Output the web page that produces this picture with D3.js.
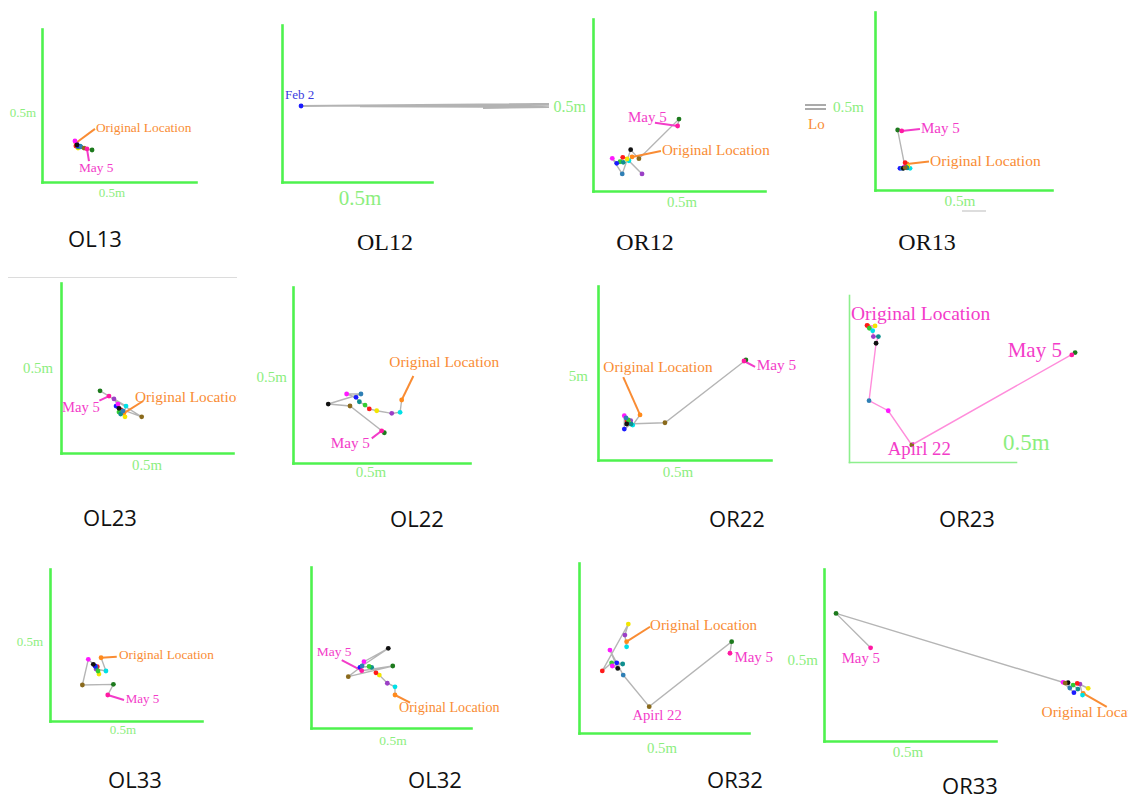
<!DOCTYPE html>
<html>
<head>
<meta charset="utf-8">
<script src="https://cdn.jsdelivr.net/npm/d3@7"></script>
<style>
  body { margin: 0; background: #fff; }
  svg { display: block; }
</style>
</head>
<body>
<div id="chart"></div>
<script>
// one colour per survey, 0 = original location ... 13 = May 5
var obsColors = ["#ff8a1c", "#00e0e6", "#9b3fc6", "#f2e600", "#ff1a1a", "#33cc33", "#0f8f8f",
                 "#1a1aff", "#ff19ff", "#2f7fb5", "#111111", "#8a6a1c", "#1d7a1d", "#ff1aa3"];

// tracks: [x (cm), y (cm), survey index], in survey order; -1 = no marker
var ol13 = [[22.0,25.5,0],[24.7,22.9,1],[22.7,24.8,2],[23.4,22.2,3],[22.0,23.5,4],[23.4,22.9,5],[24.7,23.5,6],
            [23.4,23.5,7],[21.4,26.8,8],[25.3,22.9,9],[22.7,24.2,10],[27.3,22.2,11],[32.5,20.9,12],[29.2,21.6,13]];
var ol12 = [[12.7,48.4,7],[178,49.7,-1],[52,48.2,-1],[134,48.0,-1],[178,48.8,-1],[134,47.2,-1],[178,47.8,-1]];
var or12 = [[22.7,19.8,0],[20.9,17.6,1],[28.5,9.9,2],[19.8,18.6,3],[17.3,19.6,4],[15.7,17.0,5],[17.6,16.7,6],
            [13.8,16.1,7],[11.2,19.0,8],[17.0,9.9,9],[21.9,24.0,10],[26.7,18.8,11],[50.0,41.8,12],[49.2,37.8,13]];
var or13 = [[18.1,14.6,0],[19.8,12.2,1],[17.5,13.5,2],[18.6,13.2,3],[17.0,15.3,4],[17.5,12.9,5],[18.1,12.4,6],
            [14.1,12.2,7],[16.4,12.9,8],[15.3,12.1,9],[16.0,12.2,10],[17.0,12.6,11],[12.8,33.7,12],[15.1,33.2,13]];
var ol23 = [[36.6,23.5,0],[37.8,27.6,1],[30.8,31.8,2],[37.2,21.3,3],[34.9,25.3,4],[33.7,24.1,5],[34.7,22.9,6],
            [32.0,27.6,7],[33.1,28.8,8],[36.0,24.7,9],[33.7,26.3,10],[46.9,21.3,11],[22.7,36.6,12],[27.9,33.5,13]];
var ol22 = [[61.4,35.8,0],[60.5,28.8,1],[55.8,28.2,2],[47.3,29.7,3],[43.1,30.7,4],[40.7,32.9,5],[37.5,34.8,6],
            [35.6,37.3,7],[30.3,39.2,8],[38.4,39.2,9],[19.9,33.5,10],[32.2,32.4,11],[51.6,17.2,12],[50.1,18.3,13]];
var or22 = [[24.3,25.9,0],[20.1,20.1,1],[18.9,22.6,2],[17.9,21.3,3],[16.8,22.4,4],[17.5,23.0,5],[19.1,20.7,6],
            [15.2,17.8,7],[15.2,25.5,8],[16.2,24.2,9],[16.6,20.7,10],[38.7,21.4,11],[85.5,57.5,12],[84.4,56.9,13]];
var or23 = [[11.4,81.5,0],[10.8,81.8,4],[15.6,81.5,3],[12.2,80.1,5],[14.2,78.6,1],[14.6,75.1,2],[17.6,75.1,6],
            [16.2,71.1,10],[12.0,36.7,9],[23.5,30.7,8],[37.6,10.2,11],[135.4,65.5,12],[133.4,64.1,13]];
var ol33 = [[33.6,41.6,0],[36.8,32.9,1],[30.3,34.2,2],[32.2,30.9,3],[31.1,35.7,4],[31.6,32.9,5],[30.3,35.5,6],
            [29.6,36.2,7],[28.5,37.3,10],[25.2,40.6,8],[21.3,23.7,11],[41.7,24.1,12],[38.0,17.1,13]];
var ol32 = [[52.5,20.5,0],[52.5,25.6,1],[47.7,27.8,2],[42.7,32.9,3],[40.6,34.3,4],[37.9,37.7,6],[36.3,38.2,5],
            [30.6,37.7,7],[33.1,41.2,8],[48.3,49.5,10],[31.9,38.5,9],[23.3,31.9,11],[51.1,38.5,12],[31.7,35.6,13]];
var or32 = [[28.0,53.7,0],[28.0,50.7,1],[27.0,57.6,2],[29.0,64.1,3],[13.7,36.5,4],[19.2,41.3,5],[22.2,41.3,7],
            [25.7,40.6,6],[19.6,39.4,8],[22.8,38.0,10],[18.2,48.8,8],[26.0,34.1,9],[41.3,15.5,11],[89.8,53.7,12],[88.8,46.9,13]];
var or33 = [[150.7,27.7,0],[150.3,26.7,1],[148.8,33.1,2],[153.6,30.6,3],[147.2,33.5,4],[144.8,32.5,5],[147.6,30.2,6],
            [145.3,28.1,7],[139.0,34.1,8],[142.9,30.8,9],[141.9,33.9,10],[140.2,33.7,11],[7.0,74.2,12],[27.1,54.2,13]];

var panelNames = ["OL13", "OL12", "OR12", "OR13", "OL23", "OL22", "OR22", "OR23", "OL33", "OL32", "OR32", "OR33"];
var tracks = [ol13, ol12, or12, or13, ol23, ol22, or22, or23, ol33, ol32, or32, or33];

// annotations: text, position (cm), point it points at (-1 = last), leader end (cm)
var ORIG = "Original Location", MAY5 = "May 5", APR22 = "Apirl 22";
var notes = [
  [{t: ORIG, x: 35, y: 32.7, s: 13.4, from: 0, to: [34.4, 34.7]}, {t: MAY5, x: 24, y: 6.5, s: 13.4, from: -1, to: [30.5, 13.7]}],
  [{t: "Feb 2", x: 2.0, y: 52.9, s: 13, c: "#3a3ae0"}],
  [{t: ORIG, x: 40.1, y: 20.9, s: 15.1, from: 0, to: [39.5, 23.2]}, {t: MAY5, x: 20.3, y: 40.1, s: 15, from: -1, to: [36.0, 39.7]}],
  [{t: ORIG, x: 31.1, y: 13.7, s: 15.5, from: 0, to: [30.5, 16.0]}, {t: MAY5, x: 26.0, y: 31.9, s: 15, from: -1, to: [25.4, 34.3]}],
  [{t: ORIG, x: 43.0, y: 30.0, s: 15.3, from: 0, to: [47.8, 30.6]}, {t: MAY5, x: 0.6, y: 24.3, s: 14.6, from: -1, to: [22.3, 30.8]}],
  [{t: ORIG, x: 54.4, y: 54.4, s: 15.4, from: 0, to: [68.0, 49.4]}, {t: MAY5, x: 21.3, y: 8.3, s: 15.2, from: -1, to: [44.5, 14.0]}],
  [{t: ORIG, x: 3.1, y: 50.8, s: 15.3, from: 0, to: [14.6, 47.6]}, {t: MAY5, x: 91.7, y: 51.8, s: 15.3, from: -1, to: [90.8, 53.5]}],
  [{t: ORIG, x: 1.2, y: 85.1, s: 19.5, pink: true}, {t: MAY5, x: 95.0, y: 62.7, s: 21}, {t: APR22, x: 23.2, y: 4.2, s: 18.8}],
  [{t: ORIG, x: 45.4, y: 40.8, s: 13.3, from: 0, to: [43.9, 42.3]}, {t: MAY5, x: 49.8, y: 11.6, s: 13, from: -1, to: [48.7, 13.8]}],
  [{t: ORIG, x: 55.0, y: 10.1, s: 14.1, from: 0, to: [61.9, 15.7]}, {t: MAY5, x: 3.6, y: 44.7, s: 13.5, from: -1, to: [19.2, 42.2]}],
  [{t: ORIG, x: 41.8, y: 60.6, s: 15, from: 0, to: [41.8, 62.5]}, {t: MAY5, x: 91.4, y: 41.9, s: 15}, {t: APR22, x: 31.4, y: 7.6, s: 14.7}],
  [{t: ORIG, x: 126.5, y: 14.1, s: 15.4, from: 0, to: [164.4, 19.9]}, {t: MAY5, x: 10.3, y: 45.1, s: 14.8}]
];

// panel layout in pixels
var SANS = "'Open Sans', sans-serif", SERIF = "'Liberation Serif', 'Times New Roman', serif";
var panels = [
  {x0: 42,  y0: 182, w: 154, h: 153, tx: 95,  ty: 247, tf: SANS,  xl: [112, 197, 13],  yl: [36, 117, 13]},
  {x0: 282, y0: 182, w: 150, h: 157, tx: 385, ty: 250, tf: SERIF, xl: [360, 205, 21]},
  {x0: 593, y0: 191, w: 172, h: 172, tx: 645, ty: 250, tf: SERIF, xl: [682, 207, 14.8], yl: [586, 112, 16]},
  {x0: 875, y0: 190, w: 177, h: 178, tx: 927, ty: 250, tf: SERIF, xl: [960, 206, 15.3], yl: [864, 112, 15.3]},
  {x0: 61,  y0: 453, w: 172, h: 170, tx: 110, ty: 526, tf: SANS,  xl: [147, 470, 14.8], yl: [53, 373, 14.8], clip: 237},
  {x0: 293, y0: 463, w: 177, h: 176, tx: 417, ty: 527, tf: SANS,  xl: [371, 477, 15],   yl: [287, 382, 15]},
  {x0: 598, y0: 460, w: 173, h: 174, tx: 737, ty: 527, tf: SANS,  xl: [678, 477, 15],   yl: [588, 381, 15], ylText: "5m"},
  {x0: 849, y0: 462, w: 167, h: 167, tx: 967, ty: 527, tf: SANS,  xl: [1003, 450, 23], xlStart: true, thin: true},
  {x0: 50,  y0: 721, w: 152, h: 152, tx: 135, ty: 788, tf: SANS,  xl: [123, 734, 13],   yl: [43, 646, 13]},
  {x0: 311, y0: 728, w: 160, h: 161, tx: 435, ty: 788, tf: SANS,  xl: [393, 745, 13.5]},
  {x0: 579, y0: 733, w: 170, h: 170, tx: 735, ty: 788, tf: SANS,  xl: [662, 753, 14.8]},
  {x0: 824, y0: 741, w: 172, h: 172, tx: 970, ty: 794, tf: SANS,  xl: [908, 757, 15],   yl: [818, 665, 15], clip: 1128}
];

var axisGreen = "#4ef24e";
var labelGreen = "#8cee7e";
var orange = "#f98c34";
var pink = "#f33cc9";
var trackGray = "#b5b5b5";

var svg = d3.select("#chart")
            .append("svg")
            .attr("width", 1132)
            .attr("height", 796);

// leftover bits from the pasted screenshots
svg.append("line").attr("x1", 8).attr("x2", 237).attr("y1", 277.5).attr("y2", 277.5)
   .attr("stroke", "#dcdcdc").attr("stroke-width", 1);
svg.append("line").attr("x1", 805).attr("x2", 826).attr("y1", 105).attr("y2", 105)
   .attr("stroke", "#aaa").attr("stroke-width", 2);
svg.append("line").attr("x1", 805).attr("x2", 826).attr("y1", 109).attr("y2", 109)
   .attr("stroke", "#aaa").attr("stroke-width", 2);
svg.append("text").text("Lo").attr("x", 808).attr("y", 129)
   .attr("fill", orange).attr("font-family", SERIF).attr("font-size", 15);
svg.append("line").attr("x1", 962).attr("x2", 986).attr("y1", 211).attr("y2", 211)
   .attr("stroke", "#bbb").attr("stroke-width", 1);

var defs = svg.append("defs");

panels.forEach(function(p, i) {
  var x = d3.scaleLinear().domain([0, 100]).range([p.x0, p.x0 + p.w]);
  var y = d3.scaleLinear().domain([0, 100]).range([p.y0, p.y0 - p.h]);
  var data = tracks[i];

  var g = svg.append("g").attr("class", "panel");
  if (p.clip) {
    defs.append("clipPath").attr("id", "clip" + i)
        .append("rect").attr("x", 0).attr("y", 0).attr("width", p.clip).attr("height", 796);
    g.attr("clip-path", "url(#clip" + i + ")");
  }

  // axes: bare green L
  var axW = p.thin ? 1.6 : 2.6;
  var axC = p.thin ? "#8def8d" : axisGreen;
  g.append("g")
   .attr("transform", "translate(0," + p.y0 + ")")
   .call(d3.axisBottom(x).tickValues([]).tickSizeOuter(0))
   .select(".domain").attr("stroke", axC).attr("stroke-width", axW).attr("stroke-linecap", "square");
  g.append("g")
   .attr("transform", "translate(" + p.x0 + ",0)")
   .call(d3.axisLeft(y).tickValues([]).tickSizeOuter(0))
   .select(".domain").attr("stroke", axC).attr("stroke-width", axW).attr("stroke-linecap", "square");

  // scale labels
  g.append("text")
   .text("0.5m")
   .attr("x", p.xl[0])
   .attr("y", p.xl[1])
   .attr("text-anchor", p.xlStart ? "start" : "middle")
   .attr("fill", labelGreen)
   .attr("font-family", SERIF)
   .attr("font-size", p.xl[2]);
  if (p.yl) {
    g.append("text")
     .text(p.ylText || "0.5m")
     .attr("x", p.yl[0])
     .attr("y", p.yl[1])
     .attr("text-anchor", "end")
     .attr("fill", labelGreen)
     .attr("font-family", SERIF)
     .attr("font-size", p.yl[2]);
  }

  // track
  var line = d3.line()
               .x(function(d) { return x(d[0]); })
               .y(function(d) { return y(d[1]); });
  g.append("path")
   .datum(data)
   .attr("fill", "none")
   .attr("stroke", i === 7 ? "#ff8ddb" : (i === 1 ? "#999" : trackGray))
   .attr("stroke-opacity", i === 1 ? 0.75 : 1)
   .attr("stroke-width", i === 1 ? 2 : 1.4)
   .attr("d", line);

  // leaders
  notes[i].forEach(function(n) {
    var col = n.c || (n.t === ORIG && !n.pink && i !== 7 ? orange : pink);
    if (n.to) {
      var pt = data[n.from < 0 ? data.length - 1 : n.from];
      g.append("line")
       .attr("x1", x(pt[0])).attr("y1", y(pt[1]))
       .attr("x2", x(n.to[0])).attr("y2", y(n.to[1]))
       .attr("stroke", col)
       .attr("stroke-width", 2);
    }
  });

  g.selectAll(".dot")
   .data(data.filter(function(d) { return d[2] >= 0; }))
   .enter().append("circle")
   .attr("class", "dot")
   .attr("cx", function(d) { return x(d[0]); })
   .attr("cy", function(d) { return y(d[1]); })
   .attr("r", 2.4)
   .attr("fill", function(d) { return obsColors[d[2]]; });

  notes[i].forEach(function(n) {
    var col = n.c || (n.t === ORIG && !n.pink && i !== 7 ? orange : pink);
    g.append("text")
     .text(n.t)
     .attr("x", x(n.x))
     .attr("y", y(n.y))
     .attr("fill", col)
     .attr("font-family", SERIF)
     .attr("font-size", n.s);
  });

  // panel title
  svg.append("text")
     .text(panelNames[i])
     .attr("x", p.tx)
     .attr("y", p.ty)
     .attr("text-anchor", "middle")
     .attr("fill", "#111")
     .attr("font-family", p.tf)
     .attr("font-size", p.tf === SANS ? 22 : 24);
});
</script>
</body>
</html>
